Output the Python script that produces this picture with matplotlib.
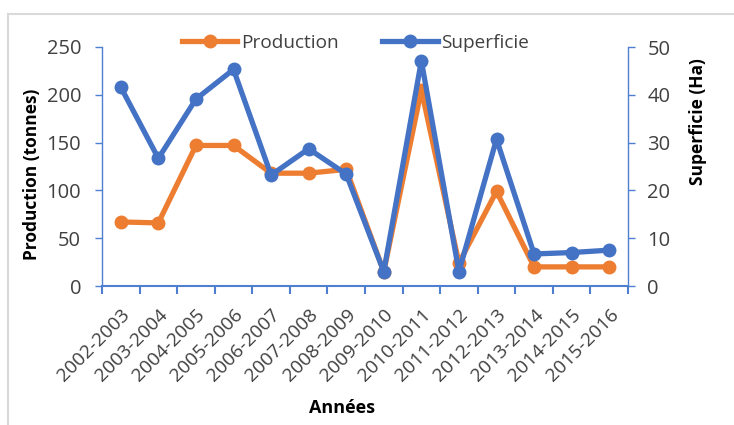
import matplotlib
matplotlib.use("Agg")
import matplotlib.pyplot as plt
from matplotlib.lines import Line2D
from matplotlib.ticker import FixedLocator, NullFormatter

plt.rcParams['font.family'] = ['Open Sans', 'DejaVu Sans']

annees = ["2002-2003", "2003-2004", "2004-2005", "2005-2006", "2006-2007",
          "2007-2008", "2008-2009", "2009-2010", "2010-2011", "2011-2012",
          "2012-2013", "2013-2014", "2014-2015", "2015-2016"]
production = [67, 66, 147, 147, 118, 118, 122, 15, 205, 24, 99, 20, 20, 20]
superficie = [41.6, 26.7, 39.1, 45.3, 23.2, 28.7, 23.4, 3.0, 47.1, 3.0, 30.7, 6.7, 7.0, 7.5]

ORANGE = "#ED7D31"
BLUE = "#4472C4"
AXIS = "#4F7FD0"
TEXT = "#404040"

W, H = 734, 425
fig = plt.figure(figsize=(W / 100, H / 100), dpi=100)

# chart frame (light gray, top and left edges visible)
fig.add_artist(Line2D([8 / W, 1], [1 - 14 / H, 1 - 14 / H], color="#D9D9D9", lw=1.5))
fig.add_artist(Line2D([8 / W, 8 / W], [0, 1 - 14 / H], color="#D9D9D9", lw=1.5))

left, right, top, bottom = 102, 628, 47, 286
ax = fig.add_axes([left / W, 1 - bottom / H, (right - left) / W, (bottom - top) / H])
ax2 = ax.twinx()

x = list(range(1, len(annees) + 1))
ax.plot(x, production, color=ORANGE, lw=3.8, marker="o", ms=9, solid_joinstyle="round",
        zorder=3)
ax2.plot(x, superficie, color=BLUE, lw=3.8, marker="o", ms=9, solid_joinstyle="round",
         zorder=3)

ax.set_xlim(0.5, len(annees) + 0.5)
ax.set_ylim(0, 250)
ax2.set_ylim(0, 50)
ax.set_yticks(range(0, 251, 50))
ax2.set_yticks(range(0, 51, 10))

# category boundaries carry the tick marks, labels sit at centres
ax.xaxis.set_major_locator(FixedLocator(x))
ax.set_xticklabels(annees, rotation=45, ha="right", rotation_mode="anchor",
                   fontsize=13.8, color=TEXT)
ax.xaxis.set_minor_locator(FixedLocator([i + 0.5 for i in range(0, len(annees) + 1)]))
ax.xaxis.set_minor_formatter(NullFormatter())
ax.tick_params(axis="x", which="major", length=0, pad=14)
ax.tick_params(axis="x", which="minor", length=6, width=1.5, color=AXIS, direction="out")

for a in (ax, ax2):
    for s in a.spines.values():
        s.set_visible(False)
ax.spines["bottom"].set_visible(True)
ax.spines["bottom"].set_color(AXIS)
ax.spines["bottom"].set_linewidth(1.5)
ax.spines["left"].set_visible(True)
ax.spines["left"].set_color(AXIS)
ax.spines["left"].set_linewidth(1.0)
ax2.spines["right"].set_visible(True)
ax2.spines["right"].set_color(AXIS)
ax2.spines["right"].set_linewidth(1.0)

ax.tick_params(axis="y", length=5, width=1.0, color=AXIS, labelsize=14.5,
               labelcolor=TEXT, pad=10)
ax2.tick_params(axis="y", length=5, width=1.0, color=AXIS, labelsize=14.5,
                labelcolor=TEXT, pad=9)

fig.text(32 / W, 1 - 174 / H, "Production (tonnes)", rotation=90, ha="center",
         va="center", fontsize=12.5, fontweight="bold", color="black")
fig.text(698 / W, 1 - 122 / H, "Superficie (Ha)", rotation=90, ha="center",
         va="center", fontsize=12.5, fontweight="bold", color="black")
fig.text(342 / W, 1 - 408 / H, "Années", ha="center", va="center", fontsize=13,
         fontweight="bold", color="black")

# legend entries along the top
handles = [Line2D([], [], color=ORANGE, lw=3.8, marker="o", ms=9),
           Line2D([], [], color=BLUE, lw=3.8, marker="o", ms=9)]
fig.legend(handles, ["Production", "Superficie"], loc="center left",
           bbox_to_anchor=(182 / W, 1 - 43 / H), ncol=2, frameon=False, fontsize=13.7,
           handlelength=2.9, handletextpad=0.2, columnspacing=2.3,
           labelcolor=TEXT, borderaxespad=0, borderpad=0)

fig.savefig("out.png", dpi=100, facecolor="white")
